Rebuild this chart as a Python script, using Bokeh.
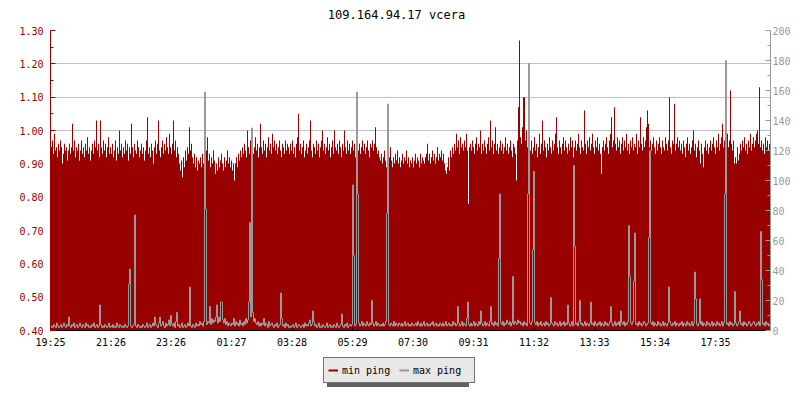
from bokeh.plotting import figure
from bokeh.layouts import column
from bokeh.models import (Range1d, LinearAxis, FixedTicker, PrintfTickFormatter,
                          Legend, LegendItem, ColumnDataSource, Label)
from bokeh.embed import file_html
from bokeh.resources import INLINE

title_text = "109.164.94.17 vcera"
tick_labels = ["19:25", "21:26", "23:26", "01:27", "03:28", "05:29",
               "07:30", "09:31", "11:32", "13:33", "15:34", "17:35"]
left_ticks = [0.40, 0.50, 0.60, 0.70, 0.80, 0.90, 1.00, 1.10, 1.20, 1.30]
right_ticks = [0, 20, 40, 60, 80, 100, 120, 140, 160, 180, 200]
series_names = ["min ping", "max ping"]
step_minutes = 2
span_minutes = 1440

min_ping = [
    0.96,0.95,0.97,0.93,0.99,0.94,0.95,0.92,0.96,0.94,0.97,0.95,0.90,0.93,0.96,0.94,0.95,0.91,0.94,0.96,0.93,0.95,1.02,0.94,0.97,0.92,0.95,0.94,0.96,0.91,
    0.94,0.97,0.93,0.95,0.92,0.96,0.94,0.98,0.93,0.95,0.91,0.94,0.96,0.93,0.97,0.95,1.03,0.94,0.96,0.92,1.03,0.95,0.93,0.97,0.94,0.96,0.92,0.95,0.98,0.93,
    0.95,0.93,0.96,0.92,0.94,0.97,0.91,0.95,0.93,1.00,0.94,0.96,0.92,0.95,0.93,0.97,0.94,0.96,0.91,0.95,0.93,1.02,0.95,0.92,0.96,0.94,0.93,0.97,0.95,0.92,
    0.94,0.96,0.93,0.95,0.91,0.94,0.97,1.04,0.93,0.95,0.92,0.96,0.94,0.90,0.95,0.97,0.93,0.96,1.03,0.94,0.92,0.95,0.97,0.93,0.96,0.94,0.98,0.95,0.93,0.99,
    0.95,0.93,0.96,1.03,0.94,0.97,0.92,0.95,0.93,0.90,0.88,0.91,0.86,0.92,0.89,0.94,0.91,0.95,0.93,1.01,0.94,0.96,0.92,0.90,0.93,0.89,0.92,0.88,0.91,0.90,
    0.92,0.89,0.93,0.90,0.88,0.91,0.94,0.98,0.91,0.93,0.89,0.92,0.90,0.94,0.91,0.87,0.90,0.88,0.92,0.89,0.91,0.93,0.90,0.88,0.92,0.89,0.91,0.94,0.90,0.92,
    0.89,0.91,0.88,0.90,0.85,0.90,0.92,0.89,0.93,0.91,0.94,0.92,0.95,0.93,0.96,0.94,0.92,1.00,0.95,0.93,0.97,0.94,0.96,0.93,0.95,0.98,0.94,0.96,0.92,0.95,
    1.02,0.95,0.93,0.97,0.94,0.96,0.92,0.95,0.98,0.94,0.96,0.93,0.99,0.95,0.97,0.94,0.96,0.93,0.95,0.97,0.94,0.92,0.96,0.95,0.93,0.97,0.94,0.96,0.95,0.93,
    0.96,0.94,0.97,0.93,0.95,0.92,0.96,0.98,1.05,0.94,0.96,0.93,0.95,0.97,0.92,0.94,0.96,0.93,0.95,0.97,1.03,0.94,0.92,0.96,0.95,0.93,0.97,0.94,0.96,0.92,
    0.95,0.97,1.00,0.94,0.96,0.93,0.95,0.98,0.94,0.96,0.92,0.95,0.97,0.93,1.00,0.95,0.94,0.96,0.93,0.97,0.95,0.92,0.96,0.94,1.00,0.95,0.93,0.97,0.94,0.96,
    0.93,0.95,0.97,0.94,0.96,0.92,0.95,0.98,0.94,0.96,0.93,0.95,0.97,0.94,0.96,0.93,0.95,0.97,0.94,0.92,0.96,0.95,0.97,0.94,0.96,1.01,0.95,0.93,0.94,0.92,
    0.91,0.93,0.90,0.92,0.94,0.91,0.89,0.93,0.90,0.92,0.95,0.91,0.89,0.92,0.90,0.93,0.91,0.94,0.90,0.92,0.89,0.91,0.93,0.90,0.92,0.91,0.94,0.90,0.92,0.89,
    0.91,0.90,0.92,0.89,0.91,0.93,0.90,0.92,0.91,0.89,0.93,0.90,0.92,0.91,0.90,0.92,0.93,0.96,0.91,0.93,0.90,0.92,0.94,0.91,0.93,0.90,0.92,0.95,0.91,0.93,
    0.92,0.94,0.91,0.93,0.90,0.88,0.87,0.89,0.92,0.88,0.94,0.92,0.95,0.93,0.96,0.94,0.99,0.95,0.97,0.93,0.98,0.95,0.96,0.94,0.97,0.95,0.99,0.94,0.78,0.95,
    0.96,0.94,0.97,0.95,0.93,0.96,0.98,0.94,0.96,0.95,1.00,0.93,0.96,0.94,0.97,0.95,0.93,0.96,0.98,0.94,1.03,0.95,0.97,0.93,0.96,1.01,0.94,0.96,0.93,0.95,
    0.97,0.94,0.96,0.93,0.95,0.98,0.94,0.96,0.93,0.95,0.97,0.94,0.92,0.96,0.95,0.93,0.85,0.97,1.07,1.27,0.98,0.96,1.01,1.10,1.10,0.97,1.00,0.95,0.93,0.96,
    0.94,0.97,0.93,0.95,0.98,0.94,0.96,0.92,0.95,0.99,0.93,0.96,1.03,0.94,0.97,0.95,0.92,0.96,0.94,0.98,0.95,0.93,0.97,0.94,0.96,0.99,1.04,0.95,0.93,0.97,
    0.95,0.93,0.96,0.98,0.94,0.97,0.95,0.93,0.96,0.94,0.98,0.95,0.97,0.92,0.95,0.97,0.94,0.96,0.99,0.95,0.93,0.97,0.95,0.94,1.06,0.96,0.93,0.97,0.95,0.98,
    0.94,0.96,0.99,0.95,0.93,0.97,0.95,0.98,0.94,0.96,0.93,0.87,0.95,0.97,0.94,0.96,0.98,0.95,0.93,0.97,0.99,1.04,0.95,0.97,1.07,0.96,0.94,0.98,0.95,0.97,
    0.93,0.96,0.98,0.94,0.97,0.95,0.99,0.94,0.96,0.93,0.97,0.95,0.98,0.94,0.96,0.95,0.99,0.93,0.97,0.95,1.04,0.96,0.94,0.98,0.95,0.97,1.01,1.06,1.02,0.95,
    0.97,0.94,0.96,0.98,0.95,0.93,0.97,0.94,0.96,0.98,0.95,0.93,0.97,0.95,0.94,0.98,0.96,0.94,0.97,1.10,0.95,0.93,0.97,0.96,1.08,0.94,0.96,0.98,0.95,0.97,
    0.94,0.96,0.93,0.97,0.95,0.92,0.96,0.98,0.94,0.96,0.93,0.95,0.97,1.00,0.94,0.96,0.92,0.95,0.97,0.94,0.90,0.96,0.93,0.89,0.95,0.97,0.94,0.96,0.93,0.95,
    0.97,0.94,0.96,0.98,0.95,0.93,0.97,0.95,0.99,0.94,0.96,0.98,1.02,0.95,0.97,0.94,0.96,0.99,0.95,0.97,1.12,0.96,0.94,0.97,0.90,0.92,0.90,0.95,0.91,0.93,
    0.96,0.94,0.97,0.95,0.98,0.94,0.96,0.93,0.97,0.95,0.99,0.94,0.96,0.98,0.95,0.97,0.99,1.00,0.96,1.13,0.95,0.97,0.94,0.96,0.93,0.98,0.95,0.97,0.94,0.96,
]

max_ping = [
    2,3,2,4,3,2,5,3,2,3,4,2,3,5,3,2,4,3,9,3,2,4,3,5,2,3,4,2,3,5,
    3,2,4,3,2,5,3,4,2,3,2,4,3,5,2,3,4,2,3,17,4,2,3,2,4,3,2,3,5,2,
    3,2,4,2,3,2,5,3,2,4,3,2,3,2,4,3,2,3,31,41,3,2,3,4,77,3,2,4,3,2,
    3,2,4,3,2,3,5,2,3,4,2,3,5,3,9,4,3,2,5,9,3,4,6,3,2,5,3,4,7,3,
    10,4,3,5,2,6,12,3,4,2,3,5,2,3,4,2,3,5,3,29,3,2,4,3,2,5,3,4,3,6,
    4,5,3,6,159,81,4,6,5,16,4,8,5,7,6,9,17,5,9,6,19,19,7,5,8,4,6,3,5,4,
    3,5,4,8,3,6,4,5,3,7,4,5,3,6,4,8,5,7,19,72,9,135,12,6,8,5,4,6,3,5,
    3,5,4,8,3,5,4,2,6,3,4,5,3,2,4,3,5,2,3,4,25,8,3,4,2,5,3,4,2,3,
    2,3,4,2,3,5,2,3,4,3,2,3,4,2,5,3,4,3,5,7,3,4,13,6,3,4,2,3,5,2,
    3,2,4,3,2,3,5,2,3,4,2,3,2,4,3,2,5,3,2,3,4,11,3,2,4,3,5,2,3,4,
    3,4,97,50,3,4,159,91,5,3,4,6,3,5,4,3,6,4,3,5,4,20,5,3,4,6,3,5,4,3,
    4,3,5,3,4,6,78,151,4,3,5,4,3,6,3,5,4,3,5,4,3,5,3,4,6,3,4,5,3,4,
    3,5,4,3,4,5,3,6,4,3,5,3,4,6,3,4,5,3,4,3,5,4,6,3,4,5,3,4,3,5,
    4,3,5,3,4,6,3,4,5,3,4,3,6,4,5,3,4,16,5,3,4,6,3,5,4,3,8,19,4,3,
    5,3,4,6,3,5,4,3,6,4,13,5,3,4,6,3,5,4,3,6,16,4,5,3,6,4,5,3,48,91,
    5,4,6,3,5,4,7,5,4,6,3,5,36,4,6,5,4,7,5,6,4,5,3,6,4,5,3,91,178,5,
    4,6,54,106,5,4,6,3,5,4,6,3,4,5,3,6,4,5,3,4,22,5,4,3,6,4,5,3,4,6,
    3,5,4,6,3,5,4,17,5,3,4,6,3,110,56,4,5,3,6,20,4,5,3,4,6,3,5,4,3,5,
    19,4,5,3,6,4,3,5,4,6,3,5,4,3,6,4,5,3,4,6,16,5,3,4,6,3,5,4,6,3,
    13,5,4,6,3,5,4,6,70,36,5,4,6,33,65,4,5,3,6,4,5,3,4,6,5,3,4,5,62,120,
    5,4,6,3,5,4,3,6,4,5,3,4,6,3,5,4,3,5,29,6,4,3,5,4,6,3,5,4,3,5,
    4,6,3,5,4,3,6,4,5,3,4,6,3,5,39,21,4,3,5,21,4,6,3,5,4,3,6,4,5,3,
    4,6,3,5,4,3,6,4,5,3,4,6,3,5,91,180,4,5,3,6,4,5,3,4,26,5,3,4,6,13,
    4,5,3,6,4,5,3,4,6,5,3,4,5,6,4,3,5,4,6,3,66,34,4,5,3,6,4,5,3,4,
]

RED = "#990000"
GRAY = "#999999"
SHADOW = "#606060"
FONT = "DejaVu Sans Mono"
NAN = float("nan")


def minutes_since_start(label):
    h, m = map(int, label.split(":"))
    h0, m0 = map(int, tick_labels[0].split(":"))
    return ((h * 60 + m) - (h0 * 60 + m0)) % 1440


tick_pos = [minutes_since_start(t) for t in tick_labels]

x_min = [i * step_minutes for i in range(len(min_ping))] + [len(min_ping) * step_minutes]
y_min = min_ping + [min_ping[-1]]
x_max = [i * step_minutes for i in range(len(max_ping))] + [len(max_ping) * step_minutes]
y_max = max_ping + [max_ping[-1]]

src_min = ColumnDataSource(dict(x=x_min, y=y_min))
src_max = ColumnDataSource(dict(x=x_max, y=y_max))


def strip(height):
    f = figure(frame_width=720, frame_height=height, output_backend="svg",
               toolbar_location=None,
               x_range=Range1d(0, 1), y_range=Range1d(0, 1),
               x_axis_location=None, y_axis_location=None,
               min_border_left=50, min_border_right=30, min_border_top=0,
               min_border_bottom=0)
    f.outline_line_color = None
    f.xgrid.visible = False
    f.ygrid.visible = False
    f.background_fill_color = "white"
    f.border_fill_color = "white"
    return f


# title strip
p0 = strip(22)
p0.add_layout(Label(x=346, y=8, x_units="screen", y_units="screen",
                    text=title_text, text_align="center",
                    text_baseline="alphabetic", text_font=FONT,
                    text_font_size="12px", text_color="black"))

# main chart
p = figure(frame_width=720, frame_height=300, output_backend="svg",
           toolbar_location=None,
           x_range=Range1d(0, span_minutes),
           y_range=Range1d(left_ticks[0], left_ticks[-1]),
           min_border_left=50, min_border_right=30, min_border_top=8,
           min_border_bottom=22)
p.extra_y_ranges = {"max": Range1d(right_ticks[0], right_ticks[-1])}
# area drawn on a half-pixel shifted copy of the time range, for crisp 1px columns
p.extra_x_ranges = {"area": Range1d(step_minutes / 2, span_minutes + step_minutes / 2)}

p.outline_line_color = None
p.background_fill_color = "white"
p.border_fill_color = "white"

p.xgrid.visible = False
p.ygrid.grid_line_color = "#c0c0c0"
p.ygrid.grid_line_width = 1

# left axis
ya = p.yaxis[0]
ya.ticker = FixedTicker(ticks=left_ticks,
                        minor_ticks=[(a + b) / 2 for a, b in zip(left_ticks[:-1], left_ticks[1:])])
ya.formatter = PrintfTickFormatter(format="%.2f")
ya.axis_line_color = RED
ya.major_tick_line_color = RED
ya.minor_tick_line_color = RED
ya.major_tick_in = 5
ya.major_tick_out = 0
ya.minor_tick_in = 3
ya.minor_tick_out = 0
ya.major_label_text_color = RED
ya.major_label_text_font = FONT
ya.major_label_text_font_size = "10px"
ya.major_label_standoff = 7
p.ygrid.ticker = ya.ticker

# right axis
ra = LinearAxis(y_range_name="max")
ra.ticker = FixedTicker(ticks=right_ticks,
                        minor_ticks=[(a + b) / 2 for a, b in zip(right_ticks[:-1], right_ticks[1:])])
ra.axis_line_color = GRAY
ra.major_tick_line_color = GRAY
ra.minor_tick_line_color = GRAY
ra.major_tick_in = 5
ra.major_tick_out = 0
ra.minor_tick_in = 3
ra.minor_tick_out = 0
ra.major_label_text_color = GRAY
ra.major_label_text_font = FONT
ra.major_label_text_font_size = "10px"
ra.major_label_standoff = 2
p.add_layout(ra, "right")

# bottom axis
xa = p.xaxis[0]
xa.ticker = FixedTicker(ticks=tick_pos, minor_ticks=[])
xa.major_label_overrides = {pos: lab for pos, lab in zip(tick_pos, tick_labels)}
xa.axis_line_color = "black"
xa.major_tick_line_color = "black"
xa.major_tick_in = 3
xa.major_tick_out = 0
xa.major_label_text_color = "black"
xa.major_label_text_font = FONT
xa.major_label_text_font_size = "10px"
xa.major_label_standoff = 6

# data
p.varea_step(x="x", y1=left_ticks[0], y2="y", step_mode="after", source=src_min,
             x_range_name="area", fill_color=RED, fill_alpha=1.0)
p.step(x="x", y="y", mode="after", source=src_max, y_range_name="max",
       line_color=GRAY, line_width=1)

# legend strip below the chart
p2 = strip(48)

dmin = p2.line(x=[NAN], y=[NAN], line_color=RED, line_width=2)
dmax = p2.line(x=[NAN], y=[NAN], line_color=GRAY, line_width=2)
smin = p2.line(x=[NAN], y=[NAN], line_color=SHADOW, line_width=2)
smax = p2.line(x=[NAN], y=[NAN], line_color=SHADOW, line_width=2)

common = dict(orientation="horizontal", glyph_width=10, glyph_height=16,
              label_standoff=4, label_width=57, spacing=0, padding=4, margin=0,
              label_text_font=FONT, label_text_font_size="10px",
              label_height=12)
# drop shadow: same box size, blank labels
shadow = Legend(items=[LegendItem(label=" ", renderers=[smin]),
                       LegendItem(label="  ", renderers=[smax])],
                location=(277, 13), background_fill_color=SHADOW,
                background_fill_alpha=1.0, border_line_color=None,
                label_text_color=SHADOW, label_text_alpha=0.0, **common)
legend = Legend(items=[LegendItem(label=series_names[0], renderers=[dmin]),
                       LegendItem(label=series_names[1], renderers=[dmax])],
                location=(273, 17), background_fill_color="#e8e8e8",
                background_fill_alpha=1.0, border_line_color="black",
                border_line_width=1, label_text_color="#000000", **common)
p2.add_layout(shadow, "center")
p2.add_layout(legend, "center")

open("out.html", "w").write(file_html(column(p0, p, p2), INLINE))
